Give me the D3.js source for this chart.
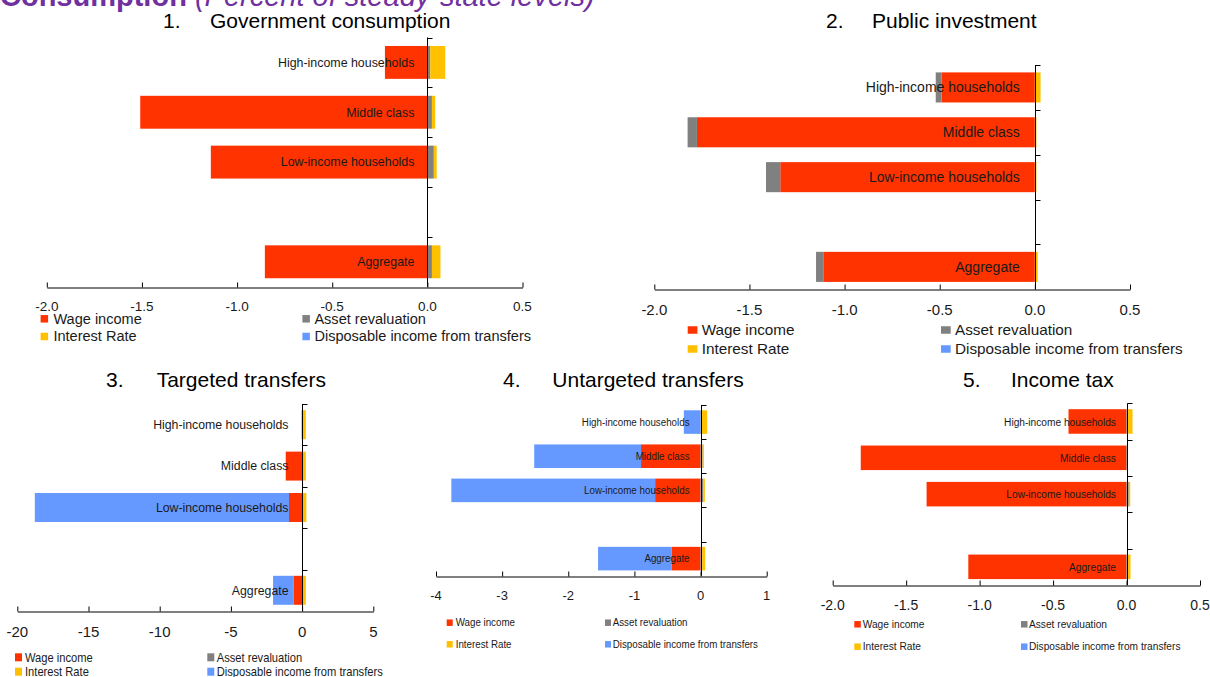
<!DOCTYPE html>
<html>
<head>
<meta charset="utf-8">
<script src="https://cdn.jsdelivr.net/npm/d3@7"></script>
<style>
  html, body { margin: 0; padding: 0; background: #fff; overflow: hidden; }
  svg { display: block; font-family: "Liberation Sans", Arial, sans-serif; }
</style>
</head>
<body>
<svg id="chart" width="1210" height="677"></svg>
<script>
// Row slots on the category axis (one empty slot separates the aggregate row)
const rowSlots = ["High-income households", "Middle class", "Low-income households", "", "Aggregate"];
const categories = ["High-income households", "Middle class", "Low-income households", "Aggregate"];

const seriesKeys = ["wage", "asset", "interest", "transfers"];
const seriesNames = ["Wage income", "Asset revaluation", "Interest Rate", "Disposable income from transfers"];
const seriesColors = ["#FF3300", "#808080", "#FFC000", "#6699FF"];

// 1. Government consumption
const govWage      = [-0.223, -1.509, -1.138, -0.854];
const govAsset     = [0.015, 0.024, 0.034, 0.024];
const govInterest  = [0.079, 0.017, 0.015, 0.045];
const govTransfers = [0, 0, 0, 0];

// 2. Public investment
const pubWage      = [-0.491, -1.776, -1.338, -1.112];
const pubAsset     = [-0.030, -0.049, -0.075, -0.038];
const pubInterest  = [0.030, 0.008, 0.008, 0.015];
const pubTransfers = [0, 0, 0, 0];

// 3. Targeted transfers
const tgtWage      = [-0.03, -1.15, -0.92, -0.61];
const tgtAsset     = [0, 0, 0, 0];
const tgtInterest  = [0.26, 0.26, 0.30, 0.26];
const tgtTransfers = [0, 0, -17.85, -1.43];

// 4. Untargeted transfers
const untWage      = [0, -0.90, -0.687, -0.44];
const untAsset     = [0.01, 0.03, 0.04, 0.025];
const untInterest  = [0.09, 0.02, 0.025, 0.045];
const untTransfers = [-0.253, -1.615, -3.081, -1.11];

// 5. Income tax
const taxWage      = [-0.395, -1.809, -1.361, -1.077];
const taxAsset     = [0.005, 0.005, 0.015, 0.01];
const taxInterest  = [0.036, 0.005, 0.01, 0.017];
const taxTransfers = [0, 0, 0, 0];

// Axis tick values
const ticksHalf = [-2, -1.5, -1, -0.5, 0, 0.5];
const ticksTargeted = [-20, -15, -10, -5, 0, 5];
const ticksUntargeted = [-4, -3, -2, -1, 0, 1];

const headlineBold = "Consumption";
const headlineRest = " (Percent of steady-state levels)";

const panelTitles = ["Government consumption", "Public investment", "Targeted transfers", "Untargeted transfers", "Income tax"];

function rows(w, a, i, t) {
  return categories.map((c, k) => ({ cat: c, wage: w[k], asset: a[k], interest: i[k], transfers: t[k] }));
}

const panelData = [
  rows(govWage, govAsset, govInterest, govTransfers),
  rows(pubWage, pubAsset, pubInterest, pubTransfers),
  rows(tgtWage, tgtAsset, tgtInterest, tgtTransfers),
  rows(untWage, untAsset, untInterest, untTransfers),
  rows(taxWage, taxAsset, taxInterest, taxTransfers)
];
const panelTicks = [ticksHalf, ticksHalf, ticksTargeted, ticksUntargeted, ticksHalf];
const panelFormats = [".1f", ".1f", "d", "d", ".1f"];

// Number formatting with a plain hyphen for negatives
const locale = d3.formatLocale({ decimal: ".", thousands: ",", grouping: [3], currency: ["", ""], minus: "-" });

// Placement of each panel on the page
const layouts = [
  { x0: 46.8, x1: 522.5, top: 37.5, bottom: 286.7, pad: 0.34,
    labelGap: 13, labelSize: 12.4, labelSx: 1,
    tickSize: 13.5, tickY: 305.8, tickSx: 1,
    legSize: 14, legSx: 1.04, legRows: [318.8, 336.5], legCols: [[40.6, 53.4], [302.4, 314.4]], sqW: 7.5, sqH: 7.5,
    numX: 163, titleX: 210, titleY: 28 },
  { x0: 654.3, x1: 1130, top: 65, bottom: 289.3, pad: 0.33,
    labelGap: 15, labelSize: 14, labelSx: 1,
    tickSize: 15, tickY: 310, tickSx: 1,
    legSize: 15, legSx: 1.02, legRows: [330, 349], legCols: [[687.7, 701.7], [941, 955]], sqW: 9.7, sqH: 7.5,
    numX: 826, titleX: 872, titleY: 28 },
  { x0: 17.3, x1: 373.3, top: 404, bottom: 611, pad: 0.3,
    labelGap: 13.6, labelSize: 12.3, labelSx: 1,
    tickSize: 15, tickY: 631.7, tickSx: 1,
    legSize: 12, legSx: 0.93, legRows: [657.3, 671.7], legCols: [[15, 25], [207.3, 216.7]], sqW: 7, sqH: 8,
    numX: 106, titleX: 156.7, titleY: 387 },
  { x0: 436, x1: 766.7, top: 405, bottom: 575.7, pad: 0.31,
    labelGap: 11, labelSize: 11, labelSx: 0.89,
    tickSize: 13, tickY: 595, tickSx: 1,
    legSize: 10.5, legSx: 0.93, legRows: [622.7, 644.3], legCols: [[446.7, 455.7], [605, 612.7]], sqW: 6, sqH: 6.5,
    numX: 503, titleX: 552.3, titleY: 387 },
  { x0: 832.7, x1: 1200, top: 403.3, bottom: 585, pad: 0.325,
    labelGap: 10.6, labelSize: 11.5, labelSx: 0.885,
    tickSize: 14, tickY: 605, tickSx: 1,
    legSize: 10.5, legSx: 0.97, legRows: [624.3, 646.7], legCols: [[854.3, 862.7], [1021, 1029]], sqW: 6.5, sqH: 6.5,
    numX: 963, titleX: 1011, titleY: 387 }
];

const svg = d3.select("#chart");
const TEXT = "#1a1a1a";

// Text drawn with an optional horizontal squeeze around its anchor point
function squeezed(parent, x, y, str, size, sx, anchor) {
  const g = parent.append("g").attr("transform", `translate(${x},${y}) scale(${sx},1)`);
  g.append("text")
    .attr("x", 0).attr("y", 0).attr("dy", "0.35em")
    .attr("text-anchor", anchor)
    .attr("font-size", size)
    .attr("fill", TEXT)
    .text(str);
  return g;
}

// Headline, partly above the top edge
svg.append("text")
  .attr("x", 0).attr("y", 6)
  .attr("font-size", 29)
  .attr("fill", "#7030A0")
  .call(t => {
    t.append("tspan").attr("font-weight", "bold").text(headlineBold);
    t.append("tspan").attr("font-style", "italic").text(headlineRest);
  });

const stack = d3.stack().keys(seriesKeys).offset(d3.stackOffsetDiverging).order(d3.stackOrderNone);

panelData.forEach((data, p) => {
  const L = layouts[p];
  const ticks = panelTicks[p];
  const fmt = locale.format(panelFormats[p]);
  const g = svg.append("g").attr("class", "panel panel-" + (p + 1));

  const x = d3.scaleLinear().domain([ticks[0], ticks[ticks.length - 1]]).range([L.x0, L.x1]);
  const y = d3.scaleBand().domain(rowSlots).range([L.top, L.bottom]).paddingInner(L.pad).paddingOuter(L.pad / 2);
  const band = d3.scaleBand().domain(rowSlots).range([L.top, L.bottom]);

  // Title
  g.append("text").attr("x", L.numX).attr("y", L.titleY).attr("font-size", 21).attr("fill", "#000").text((p + 1) + ".");
  g.append("text").attr("x", L.titleX).attr("y", L.titleY).attr("font-size", 21).attr("fill", "#000").text(panelTitles[p]);

  // Stacked bars
  const layers = stack(data);
  g.append("g").selectAll("g")
    .data(layers)
    .join("g")
    .attr("fill", (d, i) => seriesColors[i])
    .selectAll("rect")
    .data(d => d)
    .join("rect")
    .attr("x", d => x(Math.min(d[0], d[1])))
    .attr("width", d => Math.abs(x(d[1]) - x(d[0])))
    .attr("y", d => y(d.data.cat))
    .attr("height", y.bandwidth());

  // Category axis at zero
  const ax = g.append("g").attr("stroke", "#000").attr("stroke-width", 1);
  const zx = Math.round(x(0)) + 0.5;
  ax.append("line").attr("x1", zx).attr("x2", zx).attr("y1", L.top).attr("y2", L.bottom);
  rowSlots.map(s => band(s)).forEach(b => {
    const yy = Math.round(b) + 0.5;
    ax.append("line").attr("x1", zx).attr("x2", zx + 5).attr("y1", yy).attr("y2", yy);
  });

  // Value axis along the bottom, ticks pointing up
  const xAxis = d3.axisBottom(x).tickValues(ticks).tickFormat(fmt)
    .tickSizeInner(-5).tickSizeOuter(0).tickPadding(0);
  const axG = g.append("g").attr("transform", `translate(0,${Math.round(L.bottom) + 0.5})`).call(xAxis);
  axG.select(".domain").attr("stroke", "#000");
  axG.selectAll(".tick line").attr("stroke", "#000");
  axG.selectAll(".tick text").remove();
  ticks.forEach(t => {
    squeezed(g, x(t), L.tickY, fmt(t), L.tickSize, L.tickSx, "middle");
  });

  // Category labels inside the bars, right-aligned near zero
  data.forEach(d => {
    squeezed(g, x(0) - L.labelGap, y(d.cat) + y.bandwidth() / 2, d.cat, L.labelSize, L.labelSx, "end");
  });

  // Legend: two columns, two rows
  const legendOrder = [[0, 0, 0], [2, 0, 1], [1, 1, 0], [3, 1, 1]]; // [series, column, row]
  legendOrder.forEach(([s, c, r]) => {
    const cy = L.legRows[r];
    g.append("rect")
      .attr("x", L.legCols[c][0]).attr("y", cy - L.sqH / 2)
      .attr("width", L.sqW).attr("height", L.sqH)
      .attr("fill", seriesColors[s]);
    squeezed(g, L.legCols[c][1], cy, seriesNames[s], L.legSize, L.legSx, "start");
  });
});
</script>
</body>
</html>
